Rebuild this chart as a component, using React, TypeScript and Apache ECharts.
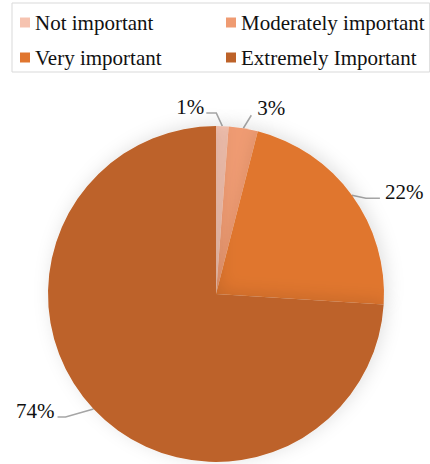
import React, { useEffect, useRef } from "react";
import * as echarts from "echarts";

const categories = ["Not important", "Moderately important", "Very important", "Extremely Important"];
const values = [1.2, 2.8, 22, 74];
const labels = ["1%", "3%", "22%", "74%"];
const colors = ["#F6C3B0", "#EF9B72", "#E0762F", "#BD6229"];

// label leader-line offsets relative to the slice anchor
const lineOffsets = [
  [[-6, -13], [-16, -13]],
  [[8, -13]],
  [[14, 3], [28, 3]],
  [[-28, 8], [-36, 8]],
];
const labelOffsets = [
  { dx: -18, dy: -19, align: "right" },
  { dx: 14, dy: -20, align: "left" },
  { dx: 33, dy: -3, align: "left" },
  { dx: -39, dy: 2, align: "right" },
];

const FONT = "Liberation Serif";

export default function App() {
  const ref = useRef<HTMLDivElement>(null);
  useEffect(() => {
    document.body.style.margin = "0";
    const chart = echarts.init(ref.current!, null, { renderer: "svg" });
    chart.setOption({
      animation: false,
      backgroundColor: "#ffffff",
      legend: {
        left: 12,
        top: 3,
        width: 412,
        orient: "horizontal",
        padding: [9, 5, 4, 8],
        borderColor: "#d9d9d9",
        borderWidth: 1,
        itemWidth: 10,
        itemHeight: 10,
        itemGap: 14,
        icon: "rect",
        selectedMode: false,
        formatter: "{a|{name}}",
        textStyle: {
          fontFamily: FONT,
          fontSize: 21,
          color: "#111111",
          rich: {
            a: {
              fontFamily: FONT,
              fontSize: 21,
              color: "#111111",
              width: 177,
              lineHeight: 24,
            },
          },
        },
        data: categories,
      },
      series: [
        {
          type: "pie",
          center: [216, 294],
          radius: 168,
          startAngle: 90,
          clockwise: true,
          silent: true,
          itemStyle: {
            borderWidth: 0,
            shadowBlur: 18,
            shadowColor: "rgba(0,0,0,0.12)",
            shadowOffsetX: 3,
            shadowOffsetY: -2,
          },
          label: {
            show: true,
            position: "outside",
            fontFamily: FONT,
            fontSize: 21,
            color: "#111111",
            formatter: (p: any) => labels[p.dataIndex],
          },
          labelLine: {
            show: true,
            length: 12,
            length2: 10,
            lineStyle: { color: "#a6a6a6", width: 1.5 },
          },
          labelLayout: (p: any) => {
            const i = p.dataIndex;
            const pts = p.labelLinePoints;
            if (!pts) return {};
            const a = pts[0];
            const linePts = [[a[0], a[1]], ...lineOffsets[i].map((o) => [a[0] + o[0], a[1] + o[1]])];
            const lo = labelOffsets[i];
            return {
              x: a[0] + lo.dx,
              y: a[1] + lo.dy,
              align: lo.align,
              verticalAlign: "middle",
              labelLinePoints: linePts,
            };
          },
          data: categories.map((c, i) => ({
            name: c,
            value: values[i],
            itemStyle: { color: colors[i] },
          })),
        },
      ],
    });
    return () => chart.dispose();
  }, []);
  return <div ref={ref} style={{ width: 430, height: 464 }} />;
}
